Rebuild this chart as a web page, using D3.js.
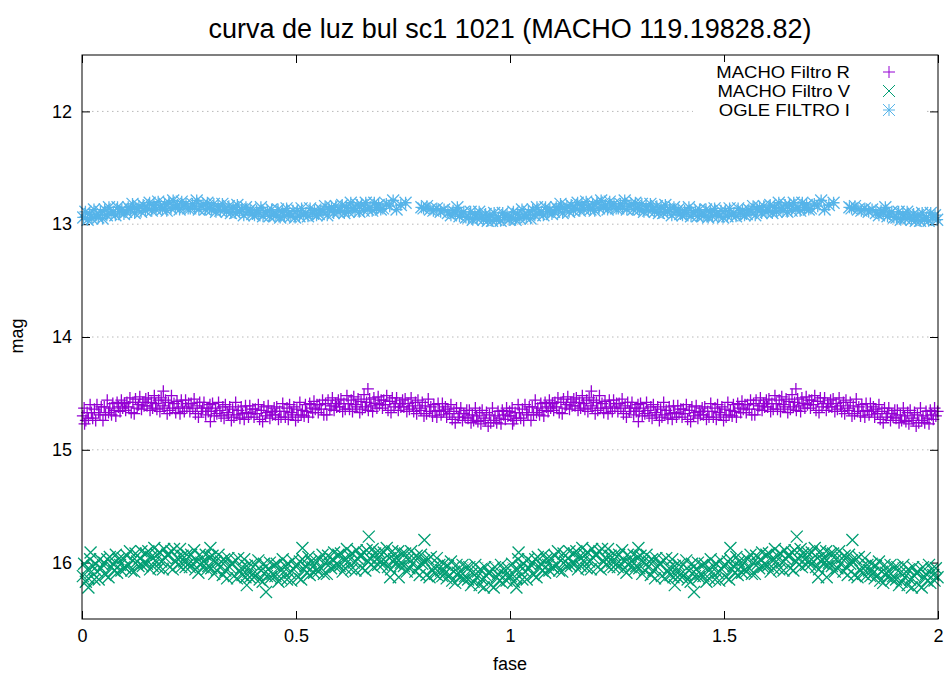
<!DOCTYPE html>
<html><head><meta charset="utf-8">
<script src="https://cdn.jsdelivr.net/npm/d3@7"></script>
<style>body{margin:0;background:#fff}svg{display:block;font-family:"Liberation Sans",Arial,sans-serif}</style>
</head><body><svg id="c" width="944" height="674"></svg>
<script>
const chartTitle = "curva de luz bul sc1 1021 (MACHO 119.19828.82)";
const xLabel = "fase";
const yLabel = "mag";
const xTicks = [0, 0.5, 1, 1.5, 2];
const xTickLabels = ["0", "0.5", "1", "1.5", "2"];
const yTicks = [12, 13, 14, 15, 16];
const seriesNames = ["MACHO Filtro R", "MACHO Filtro V", "OGLE FILTRO I"];

// MACHO epochs folded in phase (R and V observed together); each point is drawn again at phase+1
const machoPhase = [
0.002,0.005,0.009,0.012,0.015,0.019,0.022,0.025,0.029,0.032,0.035,0.039,0.042,0.045,0.049,
0.052,0.055,0.059,0.062,0.065,0.069,0.072,0.075,0.079,0.082,0.085,0.089,0.092,0.095,0.099,
0.102,0.105,0.109,0.112,0.115,0.119,0.122,0.125,0.129,0.132,0.135,0.139,0.142,0.145,0.149,
0.152,0.155,0.159,0.162,0.165,0.169,0.172,0.175,0.179,0.182,0.185,0.189,0.192,0.195,0.199,
0.202,0.205,0.209,0.212,0.215,0.219,0.222,0.225,0.229,0.232,0.235,0.239,0.242,0.245,0.249,
0.252,0.255,0.259,0.262,0.265,0.269,0.272,0.275,0.279,0.282,0.285,0.289,0.292,0.295,0.299,
0.302,0.305,0.309,0.312,0.315,0.319,0.322,0.325,0.329,0.332,0.335,0.339,0.342,0.345,0.349,
0.352,0.355,0.359,0.362,0.365,0.369,0.372,0.375,0.379,0.382,0.385,0.389,0.392,0.395,0.399,
0.402,0.405,0.409,0.412,0.415,0.419,0.422,0.425,0.429,0.432,0.435,0.439,0.442,0.445,0.449,
0.452,0.455,0.459,0.462,0.465,0.469,0.472,0.475,0.479,0.482,0.485,0.489,0.492,0.495,0.499,
0.502,0.505,0.509,0.512,0.515,0.519,0.522,0.525,0.529,0.532,0.535,0.539,0.542,0.545,0.549,
0.552,0.555,0.559,0.562,0.565,0.569,0.572,0.575,0.579,0.582,0.585,0.589,0.592,0.595,0.599,
0.602,0.605,0.609,0.612,0.615,0.619,0.622,0.625,0.629,0.632,0.635,0.639,0.642,0.645,0.649,
0.652,0.655,0.659,0.662,0.665,0.669,0.672,0.675,0.679,0.682,0.685,0.689,0.692,0.695,0.699,
0.702,0.705,0.709,0.712,0.715,0.719,0.722,0.725,0.729,0.732,0.735,0.739,0.742,0.745,0.749,
0.752,0.755,0.759,0.762,0.765,0.769,0.772,0.775,0.779,0.782,0.785,0.789,0.792,0.795,0.799,
0.802,0.805,0.809,0.812,0.815,0.819,0.822,0.825,0.829,0.832,0.835,0.839,0.842,0.845,0.849,
0.852,0.855,0.859,0.862,0.865,0.869,0.872,0.875,0.879,0.882,0.885,0.889,0.892,0.895,0.899,
0.902,0.905,0.909,0.912,0.915,0.919,0.922,0.925,0.929,0.932,0.935,0.939,0.942,0.945,0.949,
0.952,0.955,0.959,0.962,0.965,0.969,0.972,0.975,0.979,0.982,0.985,0.989,0.992,0.995,0.999];

const rMag = [
14.70,14.63,14.74,14.67,14.72,14.60,14.67,14.72,14.64,14.74,14.60,14.67,14.69,14.62,14.74,
14.62,14.69,14.56,14.67,14.63,14.69,14.59,14.65,14.70,14.58,14.62,14.66,14.56,14.63,14.59,
14.65,14.58,14.62,14.54,14.67,14.58,14.68,14.55,14.63,14.60,14.53,14.64,14.58,14.61,14.55,
14.61,14.54,14.65,14.58,14.63,14.52,14.59,14.64,14.56,14.66,14.54,14.61,14.63,14.56,14.68,
14.58,14.65,14.52,14.63,14.59,14.67,14.57,14.63,14.68,14.56,14.62,14.66,14.56,14.63,14.59,
14.66,14.59,14.63,14.55,14.68,14.61,14.71,14.58,14.66,14.63,14.58,14.69,14.63,14.66,14.60,
14.66,14.59,14.70,14.63,14.68,14.58,14.65,14.70,14.62,14.72,14.60,14.67,14.69,14.62,14.74,
14.64,14.71,14.58,14.69,14.65,14.72,14.62,14.68,14.73,14.61,14.67,14.71,14.61,14.68,14.64,
14.71,14.64,14.68,14.60,14.73,14.65,14.75,14.62,14.70,14.67,14.61,14.72,14.66,14.69,14.63,
14.69,14.62,14.73,14.66,14.71,14.59,14.66,14.71,14.63,14.73,14.60,14.67,14.69,14.62,14.74,
14.64,14.71,14.58,14.69,14.65,14.70,14.60,14.66,14.71,14.59,14.63,14.67,14.57,14.64,14.60,
14.67,14.60,14.64,14.56,14.69,14.59,14.69,14.56,14.64,14.61,14.54,14.65,14.59,14.62,14.56,
14.62,14.55,14.66,14.59,14.64,14.52,14.59,14.64,14.56,14.66,14.53,14.60,14.62,14.55,14.67,
14.57,14.64,14.51,14.62,14.58,14.65,14.55,14.61,14.66,14.54,14.59,14.63,14.53,14.60,14.56,
14.63,14.56,14.60,14.52,14.65,14.57,14.67,14.54,14.62,14.59,14.54,14.65,14.59,14.62,14.56,
14.62,14.55,14.66,14.59,14.64,14.54,14.61,14.66,14.58,14.68,14.56,14.63,14.65,14.58,14.70,
14.61,14.68,14.55,14.66,14.62,14.70,14.60,14.66,14.71,14.59,14.65,14.69,14.59,14.66,14.62,
14.71,14.64,14.68,14.60,14.73,14.66,14.76,14.63,14.71,14.68,14.63,14.74,14.68,14.71,14.65,
14.72,14.65,14.76,14.69,14.74,14.63,14.70,14.75,14.67,14.77,14.65,14.72,14.74,14.67,14.79,
14.69,14.76,14.63,14.74,14.70,14.76,14.66,14.72,14.77,14.65,14.69,14.73,14.63,14.70,14.66];

const vMag = [
16.12,16.01,16.17,16.06,16.14,15.97,16.08,16.03,16.15,16.01,16.08,16.15,15.97,16.05,16.02,
16.00,16.11,15.97,16.13,15.95,16.04,16.01,16.07,15.93,16.09,15.97,16.02,16.07,15.96,16.04,
16.05,15.94,16.02,15.90,16.07,15.98,16.08,15.92,15.99,16.03,15.96,15.90,16.03,16.00,15.92,
16.01,15.90,16.06,15.95,16.03,15.87,15.98,15.93,16.05,15.91,15.99,16.06,15.88,15.96,15.93,
15.93,16.04,15.90,16.06,15.88,15.99,15.96,16.02,15.88,16.04,15.94,15.99,16.04,15.93,16.01,
16.04,15.93,16.01,15.89,16.06,15.99,16.09,15.93,16.00,16.04,15.99,15.93,16.06,16.03,15.95,
16.05,15.94,16.10,15.99,16.07,15.93,16.04,15.99,16.11,15.97,16.07,16.14,15.96,16.04,16.01,
16.01,16.12,15.98,16.14,15.96,16.08,16.05,16.11,15.97,16.13,16.03,16.08,16.13,16.02,16.10,
16.13,16.02,16.10,15.98,16.15,16.07,16.17,16.01,16.08,16.12,16.06,16.00,16.13,16.10,16.02,
16.12,16.01,16.17,16.06,16.14,15.97,16.08,16.03,16.15,16.01,16.09,16.16,15.98,16.06,16.03,
16.02,16.13,15.99,16.15,15.97,16.06,16.03,16.09,15.95,16.11,15.99,16.04,16.09,15.98,16.06,
16.08,15.97,16.05,15.93,16.10,16.00,16.10,15.94,16.01,16.05,15.97,15.91,16.04,16.01,15.93,
16.03,15.92,16.08,15.97,16.05,15.88,15.99,15.94,16.06,15.92,16.00,16.07,15.89,15.97,15.94,
15.94,16.05,15.91,16.07,15.89,15.99,15.96,16.02,15.88,16.04,15.92,15.97,16.02,15.91,15.99,
16.02,15.91,15.99,15.87,16.04,15.96,16.06,15.90,15.97,16.01,15.96,15.90,16.03,16.00,15.92,
16.03,15.92,16.08,15.97,16.05,15.90,16.01,15.96,16.08,15.94,16.04,16.11,15.93,16.01,15.98,
16.00,16.11,15.97,16.13,15.95,16.07,16.04,16.10,15.96,16.12,16.02,16.07,16.12,16.01,16.09,
16.14,16.03,16.11,15.99,16.16,16.08,16.18,16.02,16.09,16.13,16.08,16.02,16.15,16.12,16.04,
16.15,16.04,16.20,16.09,16.17,16.02,16.13,16.08,16.20,16.06,16.15,16.22,16.04,16.12,16.09,
16.09,16.20,16.06,16.22,16.04,16.13,16.10,16.16,16.02,16.18,16.06,16.11,16.16,16.05,16.13];

// isolated MACHO points
const rOutPhase = [0.006, 0.190, 0.300, 0.668];
const rOutMag = [14.77, 14.48, 14.75, 14.46];
const vOutPhase = [0.020, 0.015, 0.300, 0.515, 0.430, 0.385, 0.670, 0.800, 0.720, 0.740];
const vOutMag = [15.91, 16.22, 15.87, 15.87, 16.26, 16.20, 15.77, 15.80, 16.13, 16.13];

// OGLE I
const iPhase = [
0.003,0.008,0.013,0.018,0.023,0.028,0.033,0.038,0.043,0.048,
0.053,0.058,0.063,0.068,0.073,0.078,0.083,0.088,0.093,0.098,
0.103,0.108,0.113,0.118,0.123,0.128,0.133,0.138,0.143,0.148,
0.153,0.158,0.163,0.168,0.173,0.178,0.183,0.188,0.193,0.198,
0.203,0.208,0.213,0.218,0.223,0.228,0.233,0.238,0.243,0.248,
0.253,0.258,0.263,0.268,0.273,0.278,0.283,0.288,0.293,0.298,
0.303,0.308,0.313,0.318,0.323,0.328,0.333,0.338,0.343,0.348,
0.353,0.358,0.363,0.368,0.373,0.378,0.383,0.388,0.393,0.398,
0.403,0.408,0.413,0.418,0.423,0.428,0.433,0.438,0.443,0.448,
0.453,0.458,0.463,0.468,0.473,0.478,0.483,0.488,0.493,0.498,
0.503,0.508,0.513,0.518,0.523,0.528,0.533,0.538,0.543,0.548,
0.553,0.558,0.563,0.568,0.573,0.578,0.583,0.588,0.593,0.598,
0.603,0.608,0.613,0.618,0.623,0.628,0.633,0.638,0.643,0.648,
0.653,0.658,0.663,0.668,0.673,0.678,0.683,0.688,0.693,0.698,
0.703,0.711,0.719,0.727,0.735,0.745,0.756,
0.793,0.798,0.806,0.813,0.821,0.829,0.838,0.846,0.855,
0.862,0.867,0.872,0.877,0.882,0.887,0.892,0.897,
0.903,0.908,0.913,0.918,0.923,0.928,0.933,0.938,0.943,0.948,
0.953,0.958,0.963,0.968,0.973,0.978,0.983,0.988,0.993,0.998];
const iMag = [
12.94,12.89,12.96,12.91,12.95,12.87,12.92,12.94,12.89,12.95,
12.87,12.92,12.85,12.91,12.89,12.92,12.85,12.89,12.87,12.91,
12.89,12.85,12.87,12.82,12.90,12.86,12.84,12.89,12.83,12.88,
12.86,12.81,12.88,12.83,12.87,12.80,12.85,12.87,12.82,12.88,
12.81,12.86,12.79,12.85,12.83,12.87,12.80,12.84,12.82,12.86,
12.86,12.82,12.84,12.79,12.87,12.84,12.82,12.87,12.81,12.86,
12.87,12.82,12.89,12.84,12.88,12.82,12.87,12.89,12.84,12.90,
12.85,12.90,12.83,12.89,12.87,12.92,12.85,12.89,12.87,12.91,
12.92,12.88,12.90,12.85,12.93,12.90,12.88,12.93,12.87,12.92,
12.92,12.87,12.94,12.89,12.93,12.86,12.91,12.93,12.88,12.94,
12.88,12.93,12.86,12.92,12.90,12.93,12.86,12.90,12.88,12.92,
12.91,12.87,12.89,12.84,12.92,12.87,12.85,12.90,12.84,12.89,
12.88,12.83,12.90,12.85,12.89,12.81,12.86,12.88,12.83,12.89,
12.83,12.88,12.81,12.87,12.85,12.88,12.81,12.85,12.83,12.87,
12.86,12.82,12.84,12.79,12.87,12.83,12.81,
12.85,12.86,12.84,12.87,12.88,12.86,12.89,12.87,12.90,
12.92,12.88,12.90,12.85,12.93,12.91,12.89,12.94,
12.94,12.89,12.96,12.91,12.95,12.89,12.94,12.96,12.91,12.97,
12.92,12.97,12.90,12.96,12.94,12.97,12.90,12.94,12.92,12.96];

const colors = ["#9400d3", "#009e73", "#56b4e9"];

const svg = d3.select("#c");
const W = 944, H = 674;
const L = 82, R = 938, T = 55, B = 619;
const x = d3.scaleLinear().domain([0, 2]).range([L, R]);
const y = d3.scaleLinear().domain([11.5, 16.5]).range([T, B]);

svg.append("rect").attr("width", W).attr("height", H).attr("fill", "#fff");

// grid
svg.append("g").selectAll("line").data(yTicks).join("line")
  .attr("x1", L).attr("x2", R).attr("y1", d => y(d)).attr("y2", d => y(d))
  .attr("stroke", "#b8b8b8").attr("stroke-width", 1).attr("stroke-dasharray", "1.5,3.5");

// axes (inward ticks, mirrored)
const fmt = (d) => xTickLabels[xTicks.indexOf(d)];
const gx = svg.append("g").attr("transform", `translate(0,${B})`)
  .call(d3.axisBottom(x).tickValues(xTicks).tickFormat(fmt).tickSizeInner(-8).tickSizeOuter(0).tickPadding(10));
const gxt = svg.append("g").attr("transform", `translate(0,${T})`)
  .call(d3.axisTop(x).tickValues(xTicks).tickFormat("").tickSizeInner(-8).tickSizeOuter(0));
const gy = svg.append("g").attr("transform", `translate(${L},0)`)
  .call(d3.axisLeft(y).tickValues(yTicks).tickFormat(d3.format("d")).tickSizeInner(-8).tickSizeOuter(0).tickPadding(10));
const gyr = svg.append("g").attr("transform", `translate(${R},0)`)
  .call(d3.axisRight(y).tickValues(yTicks).tickFormat("").tickSizeInner(-8).tickSizeOuter(0));
[gx, gxt, gy, gyr].forEach(g => {
  g.select(".domain").remove();
  g.selectAll(".tick line").attr("stroke", "#000").attr("stroke-width", 1);
  g.selectAll("text").attr("font-family", "Liberation Sans, Arial, sans-serif").attr("font-size", 18).attr("fill", "#000");
});

// opaque key background
const legY = [72, 91, 110];
svg.append("rect").attr("x", 693).attr("y", 62).attr("width", 234).attr("height", 58).attr("fill", "#fff");

// markers: + , x , *
const S = 6;
const shapes = [
  `M${-S},0H${S}M0,${-S}V${S}`,
  `M${-S},${-S}L${S},${S}M${-S},${S}L${S},${-S}`,
  `M${-S},0H${S}M0,${-S}V${S}M${-S},${-S}L${S},${S}M${-S},${S}L${S},${-S}`
];
const sets = [
  [machoPhase.concat(rOutPhase), rMag.concat(rOutMag)],
  [machoPhase.concat(vOutPhase), vMag.concat(vOutMag)],
  [iPhase, iMag]
];
sets.forEach(([ph, mg], k) => {
  const pts = [];
  ph.forEach((p, i) => { pts.push([p, mg[i]]); if (p + 1 <= 2) pts.push([p + 1, mg[i]]); });
  svg.append("g").selectAll("path").data(pts).join("path")
    .attr("transform", d => `translate(${x(d[0])},${y(d[1])})`)
    .attr("d", shapes[k]).attr("fill", "none")
    .attr("stroke", colors[k]).attr("stroke-width", 1.3);
});

// frame
svg.append("rect").attr("x", L).attr("y", T).attr("width", R - L).attr("height", B - T)
  .attr("fill", "none").attr("stroke", "#000").attr("stroke-width", 1);

// legend
seriesNames.forEach((n, k) => {
  const t = svg.append("text").attr("x", 850).attr("y", legY[k]).attr("dy", "0.35em")
    .attr("text-anchor", "end").attr("font-size", 17).attr("fill", "#000").text(n);
  const w = t.node().getComputedTextLength();
  t.attr("textLength", w * 18.5 / 17).attr("lengthAdjust", "spacingAndGlyphs");
  svg.append("path").attr("transform", `translate(889,${legY[k]})`).attr("d", shapes[k])
    .attr("fill", "none").attr("stroke", colors[k]).attr("stroke-width", 1);
});

// titles
svg.append("text").attr("x", 510).attr("y", 38).attr("text-anchor", "middle")
  .attr("font-size", 27).attr("fill", "#000").text(chartTitle);
svg.append("text").attr("x", 510).attr("y", 670).attr("text-anchor", "middle")
  .attr("font-size", 18).attr("fill", "#000").text(xLabel);
svg.append("text").attr("transform", "translate(23,336) rotate(-90)").attr("text-anchor", "middle")
  .attr("font-size", 18).attr("fill", "#000").text(yLabel);
</script></body></html>
